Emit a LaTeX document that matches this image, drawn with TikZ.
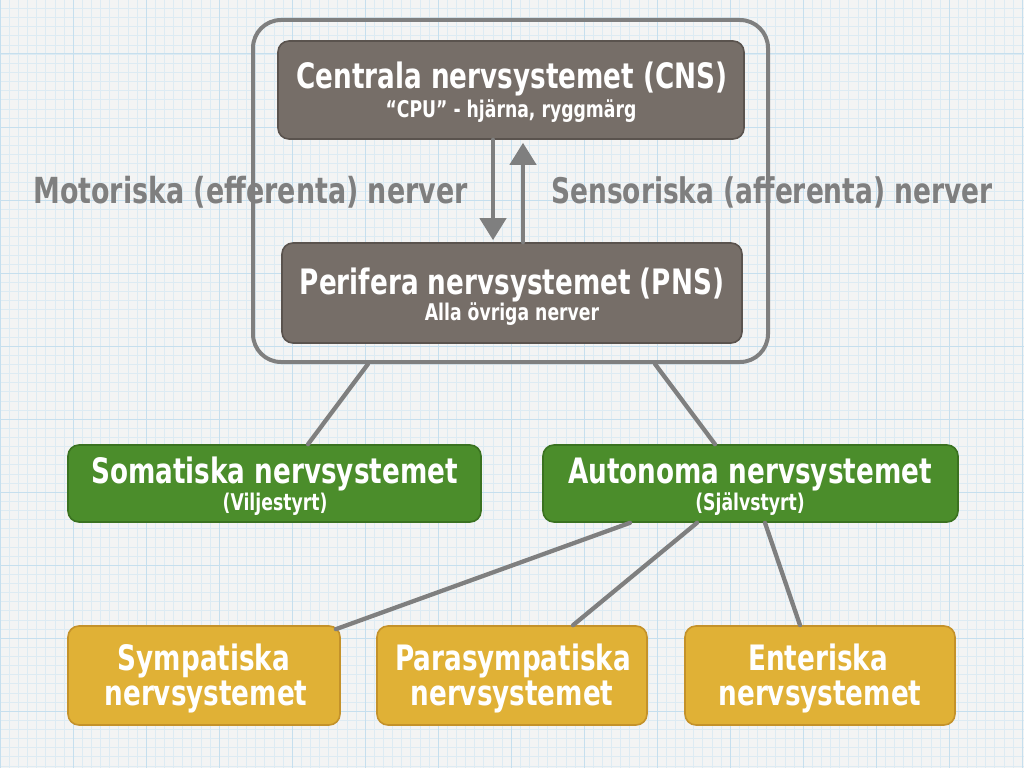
\documentclass[tikz,border=0pt]{standalone}
\usepackage{fontspec}
\newfontfamily\hand[FakeStretch=0.75]{DejaVu Sans}
\usetikzlibrary{arrows.meta}
\definecolor{paper}{HTML}{F3F4F4}
\definecolor{minorg}{HTML}{DDEBF3}
\definecolor{majorg}{HTML}{C6DFEE}
\definecolor{linegray}{HTML}{7F7F7F}
\definecolor{cnsfill}{HTML}{766E68}
\definecolor{cnsdraw}{HTML}{5A534E}
\definecolor{greenfill}{HTML}{4B8D2B}
\definecolor{greendraw}{HTML}{3A7220}
\definecolor{yellowfill}{HTML}{E0B136}
\definecolor{yellowdraw}{HTML}{C4922A}
\tikzset{
  minorline/.style={minorg, line width=0.5pt},
  majorline/.style={majorg, line width=1.0pt},
  boxbase/.style={rectangle, rounded corners=11pt, line width=1.6pt, inner sep=0pt},
  cnsbox/.style={boxbase, fill=cnsfill, draw=cnsdraw},
  greenbox/.style={boxbase, fill=greenfill, draw=greendraw},
  yellowbox/.style={boxbase, fill=yellowfill, draw=yellowdraw},
  outerbox/.style={rectangle, rounded corners=28pt, draw=linegray, line width=4pt, inner sep=0pt},
  bigtext/.style={text=white, font=\hand\bfseries\fontsize{35}{40}\selectfont, inner sep=0pt},
  smalltext/.style={text=white, font=\hand\bfseries\fontsize{23}{28}\selectfont, inner sep=0pt},
  sidetext/.style={text=linegray, font=\hand\bfseries\fontsize{#1}{40}\selectfont, inner sep=0pt},
  conn/.style={draw=linegray, line width=4.3pt, line cap=round},
  tip/.style={-{Triangle[width=26pt,length=22pt]}}
}
\begin{document}
\begin{tikzpicture}[x=1pt,y=-1pt]
\useasboundingbox (0,0) rectangle (1024,768);
\fill[paper] (0,0) rectangle (1024,768);
% grid
\foreach \i in {0,...,112} {\draw[minorline] (\i*9.125,0) -- (\i*9.125,768);}
\foreach \i in {0,...,84} {\draw[minorline] (0,8.375+\i*9.125) -- (1024,8.375+\i*9.125);}
\foreach \i in {0,...,14} {\draw[majorline] (\i*73,0) -- (\i*73,768);}
\foreach \i in {1,...,11} {\draw[majorline] (0,-19+\i*73) -- (1024,-19+\i*73);}

% boxes
\node[outerbox, minimum width=515pt, minimum height=342pt] (outer) at (510.5,191) {};
\node[cnsbox, minimum width=466pt, minimum height=98pt] (cns) at (511,90) {};
\node[cnsbox, minimum width=460pt, minimum height=100pt] (pns) at (512,293) {};
\node[greenbox, minimum width=413pt, minimum height=77pt] (soma) at (274.5,483.5) {};
\node[greenbox, minimum width=415pt, minimum height=77pt] (auto) at (750.5,483.5) {};
\node[yellowbox, minimum width=272pt, minimum height=99pt] (symp) at (204,675.5) {};
\node[yellowbox, minimum width=270pt, minimum height=99pt] (para) at (512,675.5) {};
\node[yellowbox, minimum width=270pt, minimum height=99pt] (ent) at (820,675.5) {};

% texts
\node[bigtext, anchor=base] (cnsT) at (512,88) {Centrala nervsystemet (CNS)};
\node[smalltext, anchor=base] (cnsS) at (511,117) {“CPU” - hjärna, ryggmärg};
\node[bigtext, anchor=base] (pnsT) at (512,294) {Perifera nervsystemet (PNS)};
\node[smalltext, anchor=base] (pnsS) at (512,320) {Alla övriga nerver};
\node[sidetext=35.9, anchor=base east] (motor) at (468,203) {Motoriska (efferenta) nerver};
\node[sidetext=35.3, anchor=base west] (sens) at (551,203) {Sensoriska (afferenta) nerver};
\node[bigtext, anchor=base] (somaT) at (274.5,483) {Somatiska nervsystemet};
\node[smalltext, anchor=base] (somaS) at (275,510) {(Viljestyrt)};
\node[bigtext, anchor=base] (autoT) at (750,483) {Autonoma nervsystemet};
\node[smalltext, anchor=base] (autoS) at (750,510) {(Självstyrt)};
\node[bigtext, anchor=base] (sympA) at (204,670) {Sympatiska};
\node[bigtext, anchor=base] (sympB) at (206,705) {nervsystemet};
\node[bigtext, anchor=base] (paraA) at (513,670) {Parasympatiska};
\node[bigtext, anchor=base] (paraB) at (512,705) {nervsystemet};
\node[bigtext, anchor=base] (entA) at (818,670) {Enteriska};
\node[bigtext, anchor=base] (entB) at (820,705) {nervsystemet};

% connectors
\draw[conn, tip] ([xshift=-18pt]cns.south) -- ([xshift=-19pt,yshift=2pt]pns.north);
\draw[conn, tip] ([xshift=11pt]pns.north) -- ([xshift=12pt,yshift=-3pt]cns.south);
\draw[conn] ([xshift=-142.5pt]outer.south) -- ([xshift=33.5pt]soma.north);
\draw[conn] ([xshift=144.5pt]outer.south) -- ([xshift=-35.5pt]auto.north);
\draw[conn] ([xshift=-120.5pt]auto.south) -- ([xshift=-5pt,yshift=-4pt]symp.north east);
\draw[conn] ([xshift=-53.5pt]auto.south) -- ([xshift=61pt]para.north);
\draw[conn] ([xshift=14.5pt]auto.south) -- ([xshift=-20pt]ent.north);
\end{tikzpicture}
\end{document}
